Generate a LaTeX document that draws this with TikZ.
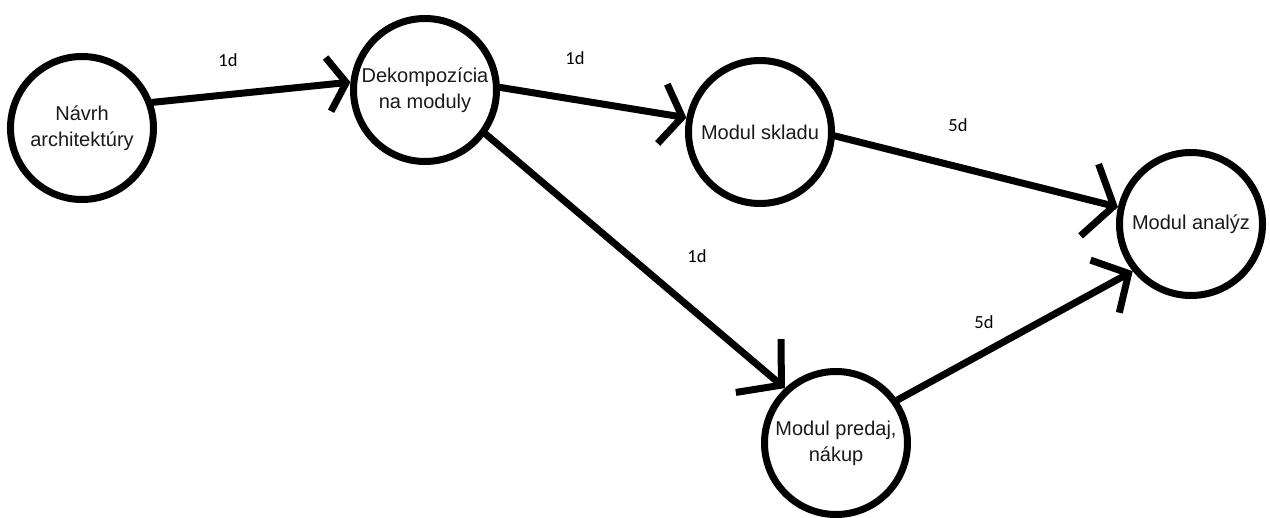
\documentclass[tikz,border=0pt]{standalone}
\usepackage{fontspec}
\setmainfont{Liberation Sans}
\newfontfamily\lblfont{Carlito}
\usetikzlibrary{arrows.meta}
\begin{document}
\begin{tikzpicture}[x=1pt,y=-1pt,
  stage/.style={circle, draw=black, line width=7pt, minimum size=143pt, inner sep=0pt, align=center, text=black!90, font=\fontsize{20}{26}\selectfont},
  conn/.style 2 args={draw=black, line width=7pt, line cap=round, -{Straight Barb[length=#1, width=#2]}},
  dur/.style={font=\lblfont\fontsize{18.5}{20}\selectfont, text=black, inner sep=0pt}]
\useasboundingbox (0,0) rectangle (1270,518);

\node[stage] (n1) at (82,128) {Návrh\\architektúry};
\node[stage] (n2) at (425,90) {Dekompozícia\\na moduly};
\node[stage] (n3) at (760,132) {Modul skladu};
\node[stage] (n4) at (1191,224) {Modul analýz};
\node[stage] (n5) at (836,443) {Modul predaj,\\nákup};

\draw[conn={18pt}{54pt}] (n1.20.5) -- (n2.174.9);
\draw[conn={20pt}{60pt}] (n2.2.2) -- (n3.169);
\draw[conn={30pt}{70pt}] (n2.-36) -- (n5.133.4);
\draw[conn={25pt}{74pt}] (n3.-3.7) -- (n4.167);
\draw[conn={27pt}{60pt}] (n5.35) -- (n4.219);

\node[dur] (d12) at (228,60) {1d};
\node[dur] (d23) at (575,58) {1d};
\node[dur] (d25) at (697,256) {1d};
\node[dur] (d34) at (958,125) {5d};
\node[dur] (d54) at (984,322) {5d};
\end{tikzpicture}
\end{document}
